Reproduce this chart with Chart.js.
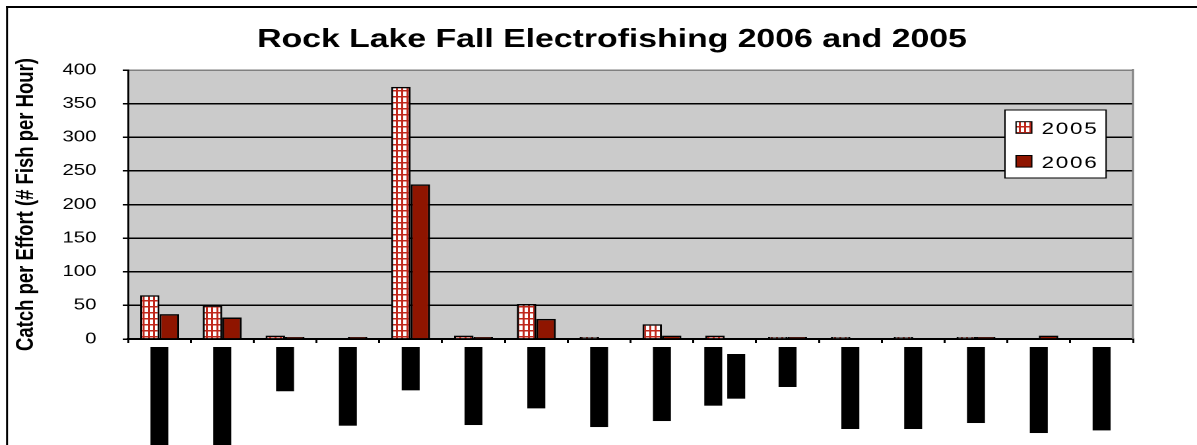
<!DOCTYPE html>
<html><head><meta charset="utf-8">
<script src="https://cdn.jsdelivr.net/npm/chart.js@4"></script>
<style>
html,body{margin:0;padding:0;background:#fff;overflow:hidden;}
#wrap{position:absolute;left:0;top:0;width:907px;height:445px;transform:scaleX(1.31974);transform-origin:0 0;}
</style></head><body>
<div id="wrap"><canvas id="c" width="907" height="445"></canvas></div>
<script>
const TITLE = 'Rock Lake Fall Electrofishing 2006 and 2005';
const Y_TITLE = 'Catch per Effort (# Fish per Hour)';
const species = ['Largemouth Bass', 'Smallmouth Bass', 'Walleye', 'Northern Pike', 'Bluegill',
  'Pumpkinseed', 'Rock Bass', 'Black Crappie', 'Yellow Perch', ['Bluntnose', 'Minnow'],
  'Bowfin', 'Golden Shiner', 'Green Sunfish', 'White Sucker', 'Black Bullhead', 'Grass Pickerel'];
const seriesNames = ['2005', '2006'];
const cpe2005 = [65, 50, 5, 0, 375, 5, 52, 3, 22, 5, 3, 3, 3, 3, 0, 0];
const cpe2006 = [37, 32, 3, 3, 230, 3, 30, 0, 5, 0, 3, 0, 0, 3, 5, 0];
const yMin = 0, yMax = 400, yStep = 50;

const FONT = '"Liberation Sans", Arial, sans-serif';

function gridPattern() {
  const p = document.createElement('canvas');
  p.width = 8; p.height = 12;
  const g = p.getContext('2d');
  g.fillStyle = '#ffffff'; g.fillRect(0, 0, 8, 12);
  g.fillStyle = '#c0281c';
  g.fillRect(0, 0, 3, 12);
  g.fillRect(0, 0, 8, 3);
  const ctx = document.getElementById('c').getContext('2d');
  const pat = ctx.createPattern(p, 'repeat');
  pat.setTransform(new DOMMatrix([0.5, 0, 0, 0.5, 0, 0]));
  return pat;
}
const pat2005 = gridPattern();
const red2006 = '#8f1500';

const deco = {
  id: 'deco',
  beforeDraw(chart) {
    const {ctx, chartArea: a} = chart;
    ctx.save();
    ctx.fillStyle = '#fff'; ctx.fillRect(0, 0, chart.width, chart.height);
    ctx.fillStyle = '#cbcbcb'; ctx.fillRect(a.left, a.top, a.right - a.left, a.bottom - a.top);
    ctx.fillStyle = '#000';
    ctx.fillRect(4.6, 6, 1.5, chart.height);
    ctx.fillRect(4.6, 6, chart.width, 2);
    ctx.font = 'bold 25.6px ' + FONT;
    ctx.textAlign = 'center'; ctx.textBaseline = 'alphabetic';
    ctx.fillText(TITLE, 463.7, 47);
    ctx.restore();
  },
  afterDraw(chart) {
    const {ctx, chartArea: a} = chart;
    ctx.save();
    // right plot border
    ctx.fillStyle = '#808080';
    ctx.fillRect(a.right - 0.75, a.top - 1, 1.5, a.bottom - a.top + 1);
    // legend
    const lx = 761.5, ly = 110, lw = 76.6, lh = 68;
    ctx.fillStyle = '#fff'; ctx.fillRect(lx, ly, lw, lh);
    ctx.strokeStyle = '#000'; ctx.lineWidth = 1; ctx.strokeRect(lx, ly, lw, lh);
    chart.data.datasets.forEach((ds, i) => {
      const sy = ly + 11.7 + i * 33.8;
      ctx.fillStyle = ds.backgroundColor;
      ctx.fillRect(lx + 8.4, sy, 11.9, 11.6);
      ctx.strokeStyle = '#000'; ctx.lineWidth = 1;
      ctx.strokeRect(lx + 8.4, sy, 11.9, 11.6);
      ctx.fillStyle = '#000';
      ctx.font = '17px ' + FONT;
      ctx.letterSpacing = '1.3px';
      ctx.textAlign = 'left'; ctx.textBaseline = 'alphabetic';
      ctx.fillText(ds.label, lx + 27.8, sy + 12.4);
      ctx.letterSpacing = '0px';
    });
    // category labels (rendered as solid black blocks as in the source)
    const xs = chart.scales.x;
    ctx.font = 'bold 12px ' + FONT;
    chart.data.labels.forEach((lab, i) => {
      const lines = Array.isArray(lab) ? lab : [lab];
      const ws = lines.map(l => ctx.measureText(l).width);
      const mw = Math.max(...ws);
      const cx0 = xs.getPixelForValue(i);
      lines.forEach((l, j) => {
        const cx = cx0 + (j - (lines.length - 1) / 2) * 17.4;
        const top = a.bottom + 8 + (mw - ws[j]) / 2;
        ctx.fillStyle = '#000';
        ctx.fillRect(cx - 6.8, top, 13.6, ws[j]);
        ctx.save();
        ctx.translate(cx, top + ws[j]);
        ctx.rotate(-Math.PI / 2);
        ctx.textAlign = 'left'; ctx.textBaseline = 'middle';
        ctx.fillText(l, 0, 0);
        ctx.restore();
      });
    });
    ctx.restore();
  }
};

new Chart(document.getElementById('c'), {
  type: 'bar',
  data: {
    labels: species,
    datasets: [
      {label: seriesNames[0], data: cpe2005, backgroundColor: pat2005},
      {label: seriesNames[1], data: cpe2006, backgroundColor: red2006}
    ]
  },
  options: {
    responsive: false,
    animation: false,
    devicePixelRatio: 2,
    layout: {padding: {left: 0, right: 48.5, top: 70, bottom: 0}},
    datasets: {bar: {borderColor: '#000', borderWidth: 1.5, categoryPercentage: 0.62, barPercentage: 1.0}},
    plugins: {legend: {display: false}, tooltip: {enabled: false}, title: {display: false}},
    scales: {
      x: {
        afterFit: s => { s.height = 106; },
        ticks: {display: false},
        grid: {drawOnChartArea: false, drawTicks: true, tickLength: 4, color: '#000', lineWidth: 1.5, offset: true},
        border: {color: '#000', width: 2}
      },
      y: {
        min: yMin, max: yMax,
        afterFit: s => { s.width = 97; },
        ticks: {stepSize: yStep, color: '#000', padding: 20, font: {family: FONT, size: 15.4}},
        grid: {color: c => (c.tick && c.tick.value === yMax) ? '#808080' : '#000', tickColor: '#000', lineWidth: 1.5, tickLength: 4},
        border: {color: '#000', width: 1.5},
        title: {display: true, text: Y_TITLE, color: '#000', font: {family: FONT, size: 18.5, weight: 'bold'}, padding: {top: 8.6, bottom: 0}}
      }
    }
  },
  plugins: [deco]
});
</script>
</body></html>
